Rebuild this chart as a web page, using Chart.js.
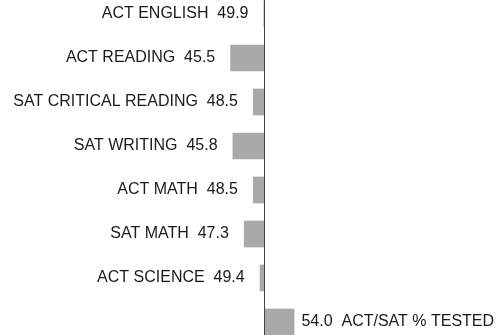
<!DOCTYPE html>
<html>
<head>
<meta charset="utf-8">
<script src="https://cdn.jsdelivr.net/npm/chart.js@4"></script>
<style>
  html, body { margin: 0; padding: 0; background: #fff; overflow: hidden; }
  #wrap { position: absolute; left: 0; top: -8px; width: 496px; height: 352px; }
</style>
</head>
<body>
<div id="wrap"><canvas id="scoreChart"></canvas></div>
<script>
// หมวดหมู่และค่า (ฐานที่ 50)
var categories = ['ACT ENGLISH', 'ACT READING', 'SAT CRITICAL READING', 'SAT WRITING',
                  'ACT MATH', 'SAT MATH', 'ACT SCIENCE', 'ACT/SAT % TESTED'];
var scores = [49.9, 45.5, 48.5, 45.8, 48.5, 47.3, 49.4, 54.0];
var baseValue = 50;

document.addEventListener('DOMContentLoaded', function() {
    var labelPlugin = {
        id: 'barLabels',
        afterDatasetsDraw: function(chart) {
            var ctx = chart.ctx;
            var xs = chart.scales.x;
            var meta = chart.getDatasetMeta(0);
            var x0 = Math.round(xs.getPixelForValue(baseValue)) + 0.5;

            // เส้นฐาน
            ctx.save();
            ctx.strokeStyle = '#444';
            ctx.lineWidth = 1;
            ctx.beginPath();
            ctx.moveTo(x0, chart.chartArea.top);
            ctx.lineTo(x0, chart.chartArea.bottom);
            ctx.stroke();

            ctx.font = '16px "Liberation Sans", Arial, sans-serif';
            ctx.fillStyle = '#1a1a1a';
            ctx.textBaseline = 'middle';
            meta.data.forEach(function(bar, i) {
                var v = scores[i];
                var px = xs.getPixelForValue(v);
                if (v < baseValue) {
                    ctx.textAlign = 'right';
                    ctx.fillText(categories[i] + '  ' + v.toFixed(1), px - 15, bar.y);
                } else {
                    ctx.textAlign = 'left';
                    ctx.fillText(v.toFixed(1) + '  ' + categories[i], px + 7, bar.y);
                }
            });
            ctx.restore();
        }
    };

    new Chart(document.getElementById('scoreChart'), {
        type: 'bar',
        data: {
            labels: categories,
            datasets: [{
                data: scores.map(function(v) { return [baseValue, v]; }),
                backgroundColor: '#a9a9a9',
                borderWidth: 0,
                barPercentage: 0.607,
                categoryPercentage: 1.0
            }]
        },
        options: {
            indexAxis: 'y',
            responsive: true,
            maintainAspectRatio: false,
            animation: false,
            layout: { padding: 0 },
            scales: {
                x: { display: false, min: 15, max: 80.7 },
                y: { display: false }
            },
            plugins: {
                legend: { display: false },
                tooltip: { enabled: false }
            }
        },
        plugins: [labelPlugin]
    });
});
</script>
</body>
</html>
